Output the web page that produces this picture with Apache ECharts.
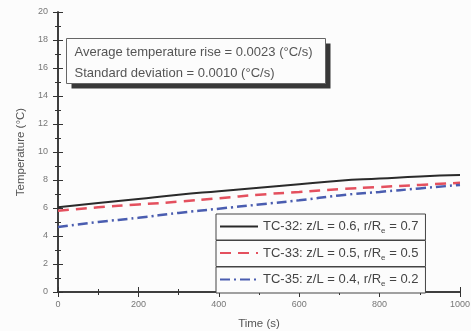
<!DOCTYPE html>
<html>
<head>
<meta charset="utf-8">
<script src="https://cdn.jsdelivr.net/npm/echarts@6/dist/echarts.min.js"></script>
<style>
  html, body { margin: 0; padding: 0; background: #fcfcfc; }
  #chart { width: 471px; height: 331px; }
</style>
</head>
<body>
<div id="chart"></div>
<script>
// time axis (s)
const times = [0, 100, 200, 300, 400, 500, 600, 700, 800, 900, 1000]
// temperatures (°C)
const tc32 = [6.05, 6.35, 6.65, 6.95, 7.2, 7.45, 7.7, 7.95, 8.1, 8.25, 8.35]
const tc33 = [5.8, 6.05, 6.25, 6.45, 6.7, 6.95, 7.15, 7.35, 7.5, 7.65, 7.8]
const tc35 = [4.65, 5.0, 5.3, 5.65, 5.95, 6.25, 6.55, 6.9, 7.15, 7.4, 7.65]

const seriesNames = ['TC-32', 'TC-33', 'TC-35']
// legend text parts: before subscript, after subscript
const legendLabels = {
  'TC-32': ['TC-32: z/L = 0.6, r/R', ' = 0.7'],
  'TC-33': ['TC-33: z/L = 0.5, r/R', ' = 0.5'],
  'TC-35': ['TC-35: z/L = 0.4, r/R', ' = 0.2'],
}
const noteLines = [
  'Average temperature rise = 0.0023 (°C/s)',
  'Standard deviation = 0.0010 (°C/s)',
]

const font = 'Liberation Sans, Arial, sans-serif'
const labelColor = '#777'
const axisColor = '#333'

function pairs(ys) {
  return times.map((t, i) => [t, ys[i]])
}

const chart = echarts.init(document.getElementById('chart'))

// 每个图例单独一个框，叠在一起形成表格样式
const legends = seriesNames.map((name, i) => ({
  data: [name],
  left: 216,
  top: 214 + i * 26.5,
  orient: 'horizontal',
  itemWidth: 38,
  itemHeight: 10,
  itemGap: 0,
  padding: [6, 7, 5, 3],
  borderColor: '#444',
  borderWidth: 1,
  backgroundColor: '#fcfcfc',
  selectedMode: false,
  itemStyle: { opacity: 0 },
  formatter(n) {
    const p = legendLabels[n]
    return `{a|${p[0]}}{s|e}{a|${p[1]}}`
  },
  textStyle: {
    fontFamily: font,
    color: '#444',
    fontSize: 13,
    rich: {
      a: { fontFamily: font, fontSize: 13, color: '#444' },
      s: { fontFamily: font, fontSize: 8, color: '#444', padding: [9, 0, 0, 0] },
    },
  },
}))

// tick helpers for the four framing axes
function frameAxis(extra) {
  return Object.assign({
    type: 'value',
    axisLine: { show: true, lineStyle: { color: axisColor, width: 1.5 } },
    axisTick: { show: true, inside: true, length: 5, lineStyle: { color: axisColor } },
    minorTick: { show: true, splitNumber: 2, length: 3, lineStyle: { color: axisColor } },
    splitLine: { show: false },
  }, extra)
}

const option = {
  backgroundColor: '#fcfcfc',
  animation: false,
  // 注释框（带深色阴影）
  graphic: [{
    type: 'group',
    left: 66,
    top: 38,
    children: [
      { type: 'rect', shape: { x: 5, y: 5, width: 259, height: 45 }, style: { fill: '#383838' } },
      { type: 'rect', shape: { x: 0, y: 0, width: 259, height: 45 }, style: { fill: '#fcfcfc', stroke: '#666', lineWidth: 1 } },
      {
        type: 'text',
        x: 8,
        y: 3,
        style: {
          text: noteLines.join('\n'),
          font: `13px ${font}`,
          fill: '#555',
          lineHeight: 21,
        },
      },
    ],
  }],
  legend: legends,
  grid: { left: 58, right: 11, top: 12, bottom: 39, outerBoundsMode: 'none' },
  xAxis: [
    frameAxis({
      min: 0,
      max: 1000,
      interval: 200,
      name: 'Time (s)',
      nameLocation: 'middle',
      nameGap: 26,
      nameTextStyle: { fontFamily: font, fontSize: 11.5, color: '#555' },
      axisLabel: { fontFamily: font, fontSize: 9, color: labelColor, margin: 8, formatter: v => String(v) },
    }),
    frameAxis({
      position: 'top',
      min: 0,
      max: 1000,
      interval: 200,
      axisLabel: { show: false },
    }),
  ],
  yAxis: [
    frameAxis({
      min: 0,
      max: 20,
      interval: 2,
      name: 'Temperature (°C)',
      nameLocation: 'middle',
      nameGap: 31,
      nameTextStyle: { fontFamily: font, fontSize: 11.5, color: '#555' },
      axisLabel: { fontFamily: font, fontSize: 9, color: labelColor, margin: 10 },
    }),
    frameAxis({
      position: 'right',
      min: 0,
      max: 20,
      interval: 2,
      axisLabel: { show: false },
    }),
  ],
  series: [
    {
      name: 'TC-32',
      type: 'line',
      smooth: true,
      showSymbol: false,
      symbol: 'none',
      data: pairs(tc32),
      lineStyle: { color: '#2a2a2a', width: 2, type: 'solid' },
      itemStyle: { color: '#2a2a2a' },
    },
    {
      name: 'TC-33',
      type: 'line',
      smooth: true,
      showSymbol: false,
      symbol: 'none',
      data: pairs(tc33),
      lineStyle: { color: '#e4505e', width: 2.5, type: [11, 7] },
      itemStyle: { color: '#e4505e' },
    },
    {
      name: 'TC-35',
      type: 'line',
      smooth: true,
      showSymbol: false,
      symbol: 'none',
      data: pairs(tc35),
      lineStyle: { color: '#4a5db0', width: 2.5, type: [10, 4, 2, 4] },
      itemStyle: { color: '#4a5db0' },
    },
  ],
}

chart.setOption(option)
</script>
</body>
</html>
